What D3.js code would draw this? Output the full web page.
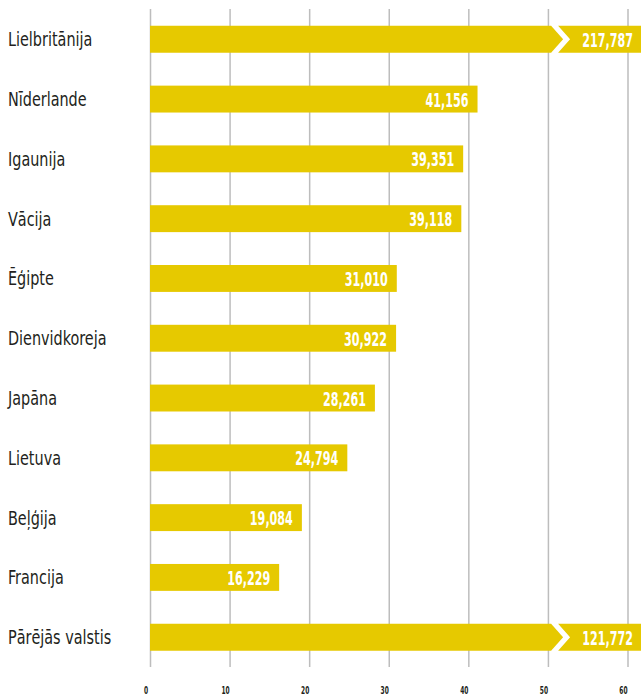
<!DOCTYPE html>
<html>
<head>
<meta charset="utf-8">
<script src="https://cdn.jsdelivr.net/npm/d3@7"></script>
<style>
  body { margin: 0; background: #fff; }
  .country { font-family: "DejaVu Sans Condensed", "Liberation Sans Narrow", sans-serif; font-size: 20px; fill: #231f20; }
  .val { font-family: "DejaVu Sans Condensed", "Liberation Sans Narrow", sans-serif; font-weight: bold; font-size: 20px; fill: #fff; }
  .tick text { font-family: "DejaVu Sans Condensed", "Liberation Sans Narrow", sans-serif; font-size: 11px; font-weight: bold; fill: #231f20; }
</style>
</head>
<body>
<div id="chart"></div>
<script>
// data (values shown with Latvian decimal comma)
var categories = ["Lielbritānija", "Nīderlande", "Igaunija", "Vācija", "Ēģipte", "Dienvidkoreja",
  "Japāna", "Lietuva", "Beļģija", "Francija", "Pārējās valstis"];
var values = [217.787, 41.156, 39.351, 39.118, 31.010, 30.922, 28.261, 24.794, 19.084, 16.229, 121.772];
var tickValues = [0, 10, 20, 30, 40, 50, 60];

var svgWidth = 641;
var svgHeight = 696;
var axisMax = 60;
var breakValue = 50.4;   // where over-long bars are cut

var barColor = "#e6c900";

var svg = d3.select("#chart")
  .append("svg")
  .attr("width", svgWidth)
  .attr("height", svgHeight);

var x = d3.scaleLinear()
  .domain([0, axisMax])
  .range([150, 627.5]);

var y = d3.scaleBand()
  .domain(categories)
  .range([8.5, 668])
  .paddingInner(0.55)
  .paddingOuter(0.29);

// gridlines + tick labels
var xAxis = d3.axisBottom(x)
  .tickValues(tickValues)
  .tickSize(-(667 - 9))
  .tickFormat(d3.format("d"));

var axisG = svg.append("g")
  .attr("transform", "translate(0,667)")
  .call(xAxis);
axisG.select(".domain").remove();
axisG.selectAll(".tick line")
  .attr("stroke", "#bdbdbd")
  .attr("stroke-width", 1.5);
axisG.selectAll(".tick text")
  .attr("y", 0)
  .attr("dy", 0)
  .attr("transform", "translate(-4.5,27) scale(0.6,1)")
  .attr("text-anchor", "middle");

var rows = categories.map(function(c, i) { return { name: c, value: values[i] }; });

var fmt = function(v) { return d3.format(",.3f")(v).replace(".", ","); };

var row = svg.selectAll(".row")
  .data(rows)
  .enter()
  .append("g")
  .attr("class", "row");

// country labels
row.append("text")
  .attr("class", "country")
  .attr("transform", d => "translate(8," + (y(d.name) + y.bandwidth() / 2 + 7) + ") scale(0.8,1)")
  .text(d => d.name);

// normal bars
row.filter(d => d.value <= axisMax)
  .append("rect")
  .attr("x", x(0))
  .attr("y", d => y(d.name))
  .attr("width", d => x(d.value) - x(0))
  .attr("height", y.bandwidth())
  .attr("fill", barColor);

// broken bars (value off the scale)
var broken = row.filter(d => d.value > axisMax);
broken.append("path")
  .attr("fill", barColor)
  .attr("d", function(d) {
    var y0 = y(d.name), y1 = y0 + y.bandwidth(), yc = (y0 + y1) / 2;
    var xb = x(breakValue);
    return "M" + x(0) + "," + y0 + "H" + xb + "L" + (xb + 12) + "," + yc +
      "L" + xb + "," + y1 + "H" + x(0) + "Z";
  });
broken.append("path")
  .attr("fill", barColor)
  .attr("d", function(d) {
    var y0 = y(d.name), y1 = y0 + y.bandwidth(), yc = (y0 + y1) / 2;
    var xb = x(breakValue) + 7;
    return "M" + xb + "," + y0 + "H" + svgWidth + "V" + y1 + "H" + xb +
      "L" + (xb + 12) + "," + yc + "Z";
  });

// value labels
row.append("text")
  .attr("class", "val")
  .attr("text-anchor", "end")
  .attr("transform", function(d) {
    var xe = d.value > axisMax ? svgWidth - 8 : x(d.value) - 9;
    var ye = y(d.name) + y.bandwidth() / 2 + 7.5;
    return "translate(" + xe + "," + ye + ") scale(0.62,1)";
  })
  .text(d => fmt(d.value));
</script>
</body>
</html>
